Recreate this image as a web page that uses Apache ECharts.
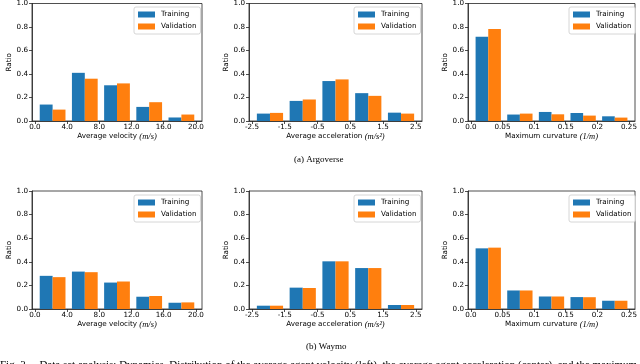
<!DOCTYPE html>
<html>
<head>
<meta charset="utf-8">
<script src="https://cdn.jsdelivr.net/npm/echarts@6/dist/echarts.min.js"></script>
<style>
  html, body { margin: 0; padding: 0; background: #fff; }
  #main { width: 640px; height: 364px; }
</style>
</head>
<body>
<div id="main"></div>
<script>
// bin edges + tick labels
const velEdges = [0, 4, 8, 12, 16, 20];
const velLabels = ['0.0', '4.0', '8.0', '12.0', '16.0', '20.0'];
const accEdges = [-2.5, -1.5, -0.5, 0.5, 1.5, 2.5];
const accLabels = ['-2.5', '-1.5', '-0.5', '0.5', '1.5', '2.5'];
const curvEdges = [0, 0.05, 0.1, 0.15, 0.2, 0.25];
const curvLabels = ['0.0', '0.05', '0.1', '0.15', '0.2', '0.25'];
const seriesNames = ['Training', 'Validation'];

// Argoverse
const argoVelTrain = [0.140, 0.410, 0.304, 0.120, 0.030];
const argoVelVal = [0.097, 0.360, 0.320, 0.160, 0.055];
const argoAccTrain = [0.063, 0.171, 0.340, 0.237, 0.071];
const argoAccVal = [0.069, 0.183, 0.354, 0.214, 0.063];
const argoCurvTrain = [0.716, 0.055, 0.077, 0.068, 0.040];
const argoCurvVal = [0.784, 0.063, 0.057, 0.046, 0.029];

// Waymo
const waymoVelTrain = [0.281, 0.317, 0.224, 0.104, 0.053];
const waymoVelVal = [0.270, 0.312, 0.233, 0.110, 0.056];
const waymoAccTrain = [0.028, 0.181, 0.404, 0.347, 0.034];
const waymoAccVal = [0.028, 0.178, 0.404, 0.347, 0.034];
const waymoCurvTrain = [0.514, 0.157, 0.106, 0.101, 0.070];
const waymoCurvVal = [0.520, 0.157, 0.106, 0.100, 0.070];

const BLUE = '#1f77b4';
const ORANGE = '#ff7f0e';
const FONT = 'DejaVu Sans';
const SERIF = 'Liberation Serif';
const FS = 7.2;

const chart = echarts.init(document.getElementById('main'));

const grids = [], xAxes = [], yAxes = [], series = [], legends = [];

// share of bin width covered by each bar (matplotlib-ish offsets)
const barSpan = [[0.15, 0.55], [0.55, 0.95]];

function panel(left, top, width, edges, labels, xName, train, val) {
  const idx = grids.length;
  const height = 118;
  grids.push({ left, top, width, height, show: true, borderColor: '#222', borderWidth: 0.8, backgroundColor: '#fff' });

  const w = edges[1] - edges[0];
  const lo = edges[0] + w * barSpan[0][0];
  const hi = edges[edges.length - 2] + w * barSpan[1][1];
  const pad = (hi - lo) * 0.05;

  const labelOf = v => {
    const k = edges.findIndex(e => Math.abs(e - v) < 1e-9);
    return k >= 0 ? labels[k] : '';
  };

  xAxes.push({
    type: 'value', gridIndex: idx, min: lo - pad, max: hi + pad,
    name: xName, nameLocation: 'middle', nameGap: 11,
    nameTextStyle: {
      fontFamily: FONT, fontSize: FS, color: '#000',
      rich: { m: { fontFamily: SERIF, fontStyle: 'italic', fontSize: 8.5, color: '#000' } }
    },
    splitLine: { show: false },
    axisLine: { show: true, onZero: false, lineStyle: { color: '#222', width: 0.8 } },
    axisTick: { show: true, inside: false, length: 3, customValues: edges, lineStyle: { color: '#222', width: 0.8 } },
    axisLabel: { customValues: edges, formatter: labelOf, fontFamily: FONT, fontSize: FS, color: '#000', margin: 3 }
  });

  yAxes.push({
    type: 'value', gridIndex: idx, min: 0, max: 1, interval: 0.2,
    name: 'Ratio', nameLocation: 'middle', nameGap: 19, nameRotate: 90,
    nameTextStyle: { fontFamily: FONT, fontSize: FS, color: '#000' },
    splitLine: { show: false },
    axisLine: { show: true, onZero: false, lineStyle: { color: '#222', width: 0.8 } },
    axisTick: { show: true, inside: false, length: 3, lineStyle: { color: '#222', width: 0.8 } },
    axisLabel: { formatter: v => v.toFixed(1), fontFamily: FONT, fontSize: FS, color: '#000', margin: 4 }
  });

  [train, val].forEach((vals, s) => {
    const color = s === 0 ? BLUE : ORANGE;
    const span = barSpan[s];
    series.push({
      type: 'custom', name: seriesNames[s], xAxisIndex: idx, yAxisIndex: idx,
      itemStyle: { color },
      encode: { x: [0, 1], y: 2 },
      data: vals.map((v, i) => [edges[i], edges[i + 1], v]),
      renderItem: (params, api) => {
        const l = api.value(0), r = api.value(1), bw = r - l;
        const p0 = api.coord([l + bw * span[0], 0]);
        const p1 = api.coord([l + bw * span[1], api.value(2)]);
        return {
          type: 'rect',
          shape: { x: p0[0], y: p1[1], width: p1[0] - p0[0], height: p0[1] - p1[1] },
          style: { fill: color }
        };
      }
    });
  });

  legends.push({
    data: seriesNames, orient: 'vertical',
    left: left + width - 68, top: top + 4,
    icon: 'rect', itemWidth: 17, itemHeight: 6, itemGap: 5,
    padding: [4, 4, 4, 4],
    borderColor: '#ccc', borderWidth: 0.8, borderRadius: 2,
    backgroundColor: 'rgba(255,255,255,0.8)',
    textStyle: { fontFamily: FONT, fontSize: FS, color: '#000', padding: [0, 0, 0, 1] },
    selectedMode: false
  });
}

panel(32, 3, 170, velEdges, velLabels, 'Average velocity {m|(m/s)}', argoVelTrain, argoVelVal);
panel(249, 3, 173, accEdges, accLabels, 'Average acceleration {m|(m/s²)}', argoAccTrain, argoAccVal);
panel(468, 3, 169, curvEdges, curvLabels, 'Maximum curvature {m|(1/m)}', argoCurvTrain, argoCurvVal);
panel(32, 191, 170, velEdges, velLabels, 'Average velocity {m|(m/s)}', waymoVelTrain, waymoVelVal);
panel(249, 191, 173, accEdges, accLabels, 'Average acceleration {m|(m/s²)}', waymoAccTrain, waymoAccVal);
panel(468, 191, 169, curvEdges, curvLabels, 'Maximum curvature {m|(1/m)}', waymoCurvTrain, waymoCurvVal);

const caption = (text, x, y, size) => ({
  type: 'text', left: x, top: y,
  style: { text, fontFamily: SERIF, fontSize: size, fill: '#000' }
});

chart.setOption({
  animation: false,
  backgroundColor: '#fff',
  grid: grids,
  xAxis: xAxes,
  yAxis: yAxes,
  legend: legends,
  series,
  graphic: [
    caption('(a) Argoverse', 294, 155, 9),
    caption('(b) Waymo', 306, 342, 9),
    caption('Fig. 3.    Data set analysis: Dynamics. Distribution of the average agent velocity (left), the average agent acceleration (center), and the maximum curvature', 0, 360, 11)
  ]
});
</script>
</body>
</html>
